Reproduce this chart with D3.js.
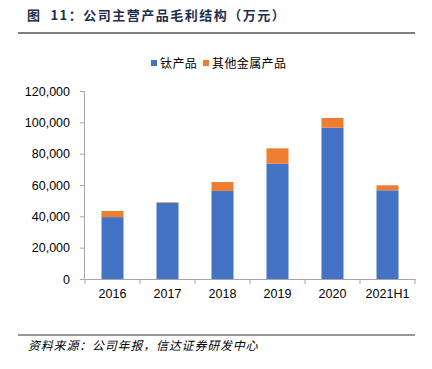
<!DOCTYPE html>
<html><head><meta charset="utf-8">
<script src="https://cdn.jsdelivr.net/npm/d3@7"></script>
<style>body{margin:0;background:#fff}</style>
</head><body>
<script>
const categories = ["2016","2017","2018","2019","2020","2021H1"];
const titanium = [39500, 48700, 56200, 73600, 96600, 56600];
const otherMetal = [3900, 300, 5700, 9800, 6200, 3200];
const yTicks = [0,20000,40000,60000,80000,100000,120000];
const seriesNames = ["钛产品","其他金属产品"];
const colors = ["#4472C4","#ED7D31"];

const W=432,H=369;
const svg=d3.select("body").append("svg").attr("width",W).attr("height",H);
const cjk="'Noto Sans CJK SC','Noto Sans',sans-serif";
const lat="'Liberation Sans',Arial,sans-serif";

svg.append("text").attr("x",27).attr("y",20).attr("font-family",cjk).attr("font-weight","bold")
  .attr("font-size",13).attr("fill","#1f2d4d").attr("letter-spacing",1.5).attr("xml:space","preserve")
  .style("white-space","pre").text("图  11：公司主营产品毛利结构（万元）");
svg.append("line").attr("x1",18).attr("x2",415).attr("y1",33).attr("y2",33).attr("stroke","#7f7f7f").attr("stroke-width",2);

const x=d3.scaleBand().domain(categories).range([85,415]).paddingInner(0.6).paddingOuter(0.3);
const y=d3.scaleLinear().domain([0,120000]).range([279,91]);

const data=categories.map((c,i)=>({cat:c,t:titanium[i],o:otherMetal[i]}));
const stack=d3.stack().keys(["t","o"])(data);
svg.append("g").selectAll("g").data(stack).join("g").attr("fill",(d,i)=>colors[i])
 .selectAll("rect").data(d=>d).join("rect")
 .attr("x",d=>x(d.data.cat)).attr("width",x.bandwidth())
 .attr("y",d=>y(d[1])).attr("height",d=>y(d[0])-y(d[1]));

const ya=svg.append("g").attr("transform","translate(84,0)")
 .call(d3.axisLeft(y).tickValues(yTicks).tickSize(4).tickPadding(10).tickFormat(d3.format(",")));
ya.select(".domain").attr("stroke","#a6a6a6");
ya.selectAll(".tick line").attr("stroke","#a6a6a6");
ya.selectAll("text").attr("font-family",lat).attr("font-size",12.5).attr("fill","#000");

const xa=svg.append("g").attr("transform","translate(0,279)")
 .call(d3.axisBottom(x).tickSize(0).tickPadding(10));
xa.select(".domain").attr("stroke","#a6a6a6");
xa.selectAll("text").attr("font-family",lat).attr("font-size",12.5).attr("fill","#000");
const edges=[x.range()[0]].concat(categories.map(c=>x(c)+x.bandwidth()/2+x.step()/2));
svg.append("g").selectAll("line").data(edges).join("line")
 .attr("x1",d=>d).attr("x2",d=>d).attr("y1",279).attr("y2",284).attr("stroke","#a6a6a6");

const lg=svg.append("g").attr("font-family",cjk).attr("font-size",12);
const lx=[151,203];
seriesNames.forEach((n,i)=>{
  lg.append("rect").attr("x",lx[i]).attr("y",60).attr("width",6).attr("height",6).attr("fill",colors[i]);
  lg.append("text").attr("x",lx[i]+9).attr("y",67.5).attr("fill","#000").attr("letter-spacing",0.4).text(n);
});

svg.append("line").attr("x1",18).attr("x2",415).attr("y1",335).attr("y2",335).attr("stroke","#333").attr("stroke-width",1);
svg.append("text").attr("x",28).attr("y",350).attr("font-family",cjk).attr("font-size",12).attr("font-style","italic")
 .attr("letter-spacing",0.8).attr("fill","#000").text("资料来源：公司年报，信达证券研发中心");
</script>
</body></html>
